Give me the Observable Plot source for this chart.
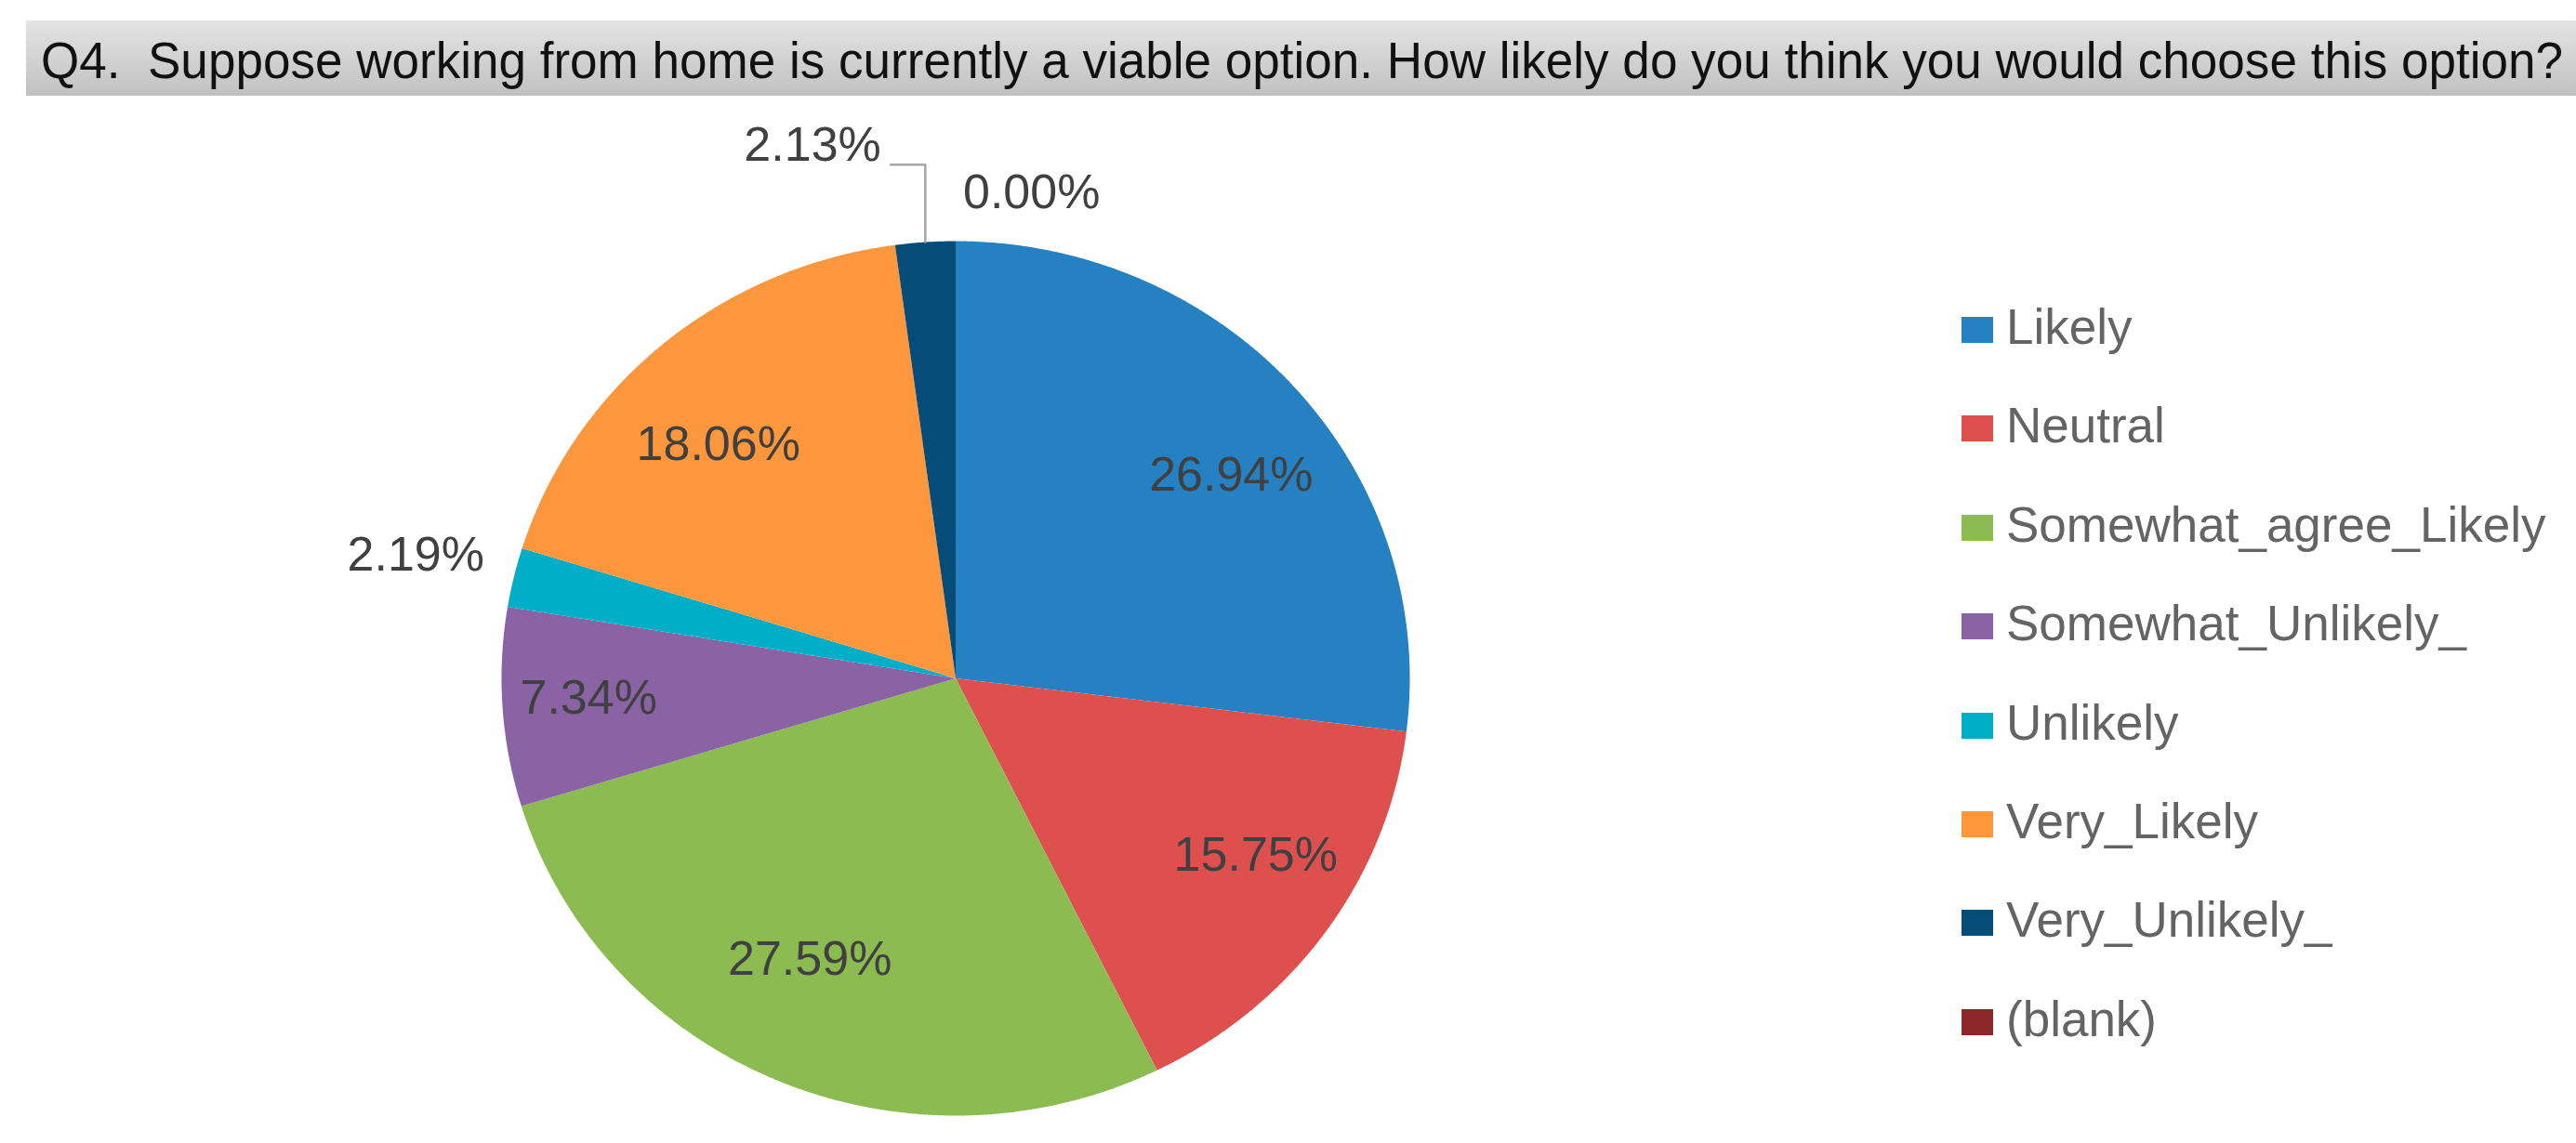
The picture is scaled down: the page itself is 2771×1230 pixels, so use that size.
<!DOCTYPE html>
<html>
<head>
<meta charset="utf-8">
<script src="https://cdn.jsdelivr.net/npm/d3@7"></script>
<script src="https://cdn.jsdelivr.net/npm/@observablehq/plot@0.6"></script>
<style>
  html, body { margin: 0; padding: 0; background: #fff; }
  body { width: 2771px; height: 1230px; overflow: hidden; position: relative;
         font-family: "Liberation Sans", Arial, sans-serif; }
  #title { position: absolute; left: 28px; top: 22px; width: 2743px; height: 81px;
           background: linear-gradient(#e4e4e4, #c1c1c1); overflow: hidden; }
  #title span { position: absolute; left: 16px; top: 15px; white-space: pre;
                font-size: 56px; line-height: 56px; color: #111; transform-origin: 0 0; }
  #chart { position: absolute; left: 0; top: 103px; }
  .lg-sw { position: absolute; left: 2110px; width: 34px; height: 28px; }
  .lg-tx { position: absolute; left: 2158px; font-size: 53px; line-height: 53px;
           color: #646464; white-space: pre; }
</style>
</head>
<body>
<div id="title"><span id="titleText"></span></div>
<div id="chart"></div>
<div id="legend"></div>
<script>
// ---- data ----
const titleText = "Q4.  Suppose working from home is currently a viable option. How likely do you think you would choose this option?";
const categories = ["Likely", "Neutral", "Somewhat_agree_Likely", "Somewhat_Unlikely_", "Unlikely", "Very_Likely", "Very_Unlikely_", "(blank)"];
const percents = [26.94, 15.75, 27.59, 7.34, 2.19, 18.06, 2.13, 0.00];
const colors = ["#2581c1", "#dd504e", "#8cbc51", "#8a63a4", "#00aec8", "#fd973d", "#064c79", "#8b2727"];

// ---- title ----
const tspan = document.getElementById("titleText");
tspan.textContent = titleText;
const tw = tspan.getBoundingClientRect().width;
tspan.style.transform = `scaleX(${2713 / tw})`;

// ---- layout ----
const W = 2771, H = 1127;
const cx = 1027.5, rx = 488.5, cyPage = 729.5, ry = 470.5, svgTop = 103;
const cy = cyPage - svgTop;

// ---- slices ----
const total = d3.sum(percents);
let cum = 0;
const slices = categories.map((c, i) => {
  const a0 = cum / total * 2 * Math.PI;
  cum += percents[i];
  const a1 = cum / total * 2 * Math.PI;
  return {c, v: percents[i], a0, a1, mid: (a0 + a1) / 2};
});
const pts = [];
for (const s of slices) {
  if (s.v <= 0) continue;
  pts.push({c: s.c, x: 0, y: 0});
  const n = Math.max(2, Math.ceil((s.a1 - s.a0) / (Math.PI / 720)));
  for (let k = 0; k <= n; k++) {
    const a = s.a0 + (s.a1 - s.a0) * k / n;
    pts.push({c: s.c, x: Math.sin(a), y: Math.cos(a)});
  }
  pts.push({c: s.c, x: 0, y: 0});
}

const fmt = v => v.toFixed(2) + "%";
const inside = slices.filter(s => s.v >= 5);
const outsideSmall = slices.filter(s => s.v > 0 && s.v < 5);
const rInX = 0.81, rInY = 0.70, rOut = 1.222;
// the small slice near 12 o'clock collides with the 0% label: shift left with a leader
const isTop = s => Math.cos(s.mid) > 0.95;
const plain = outsideSmall.filter(s => !isTop(s));
const leadered = outsideSmall.filter(s => isTop(s));
const zero = slices.filter(s => s.v === 0);

const shiftPx = 114;
const leaderLines = [];
for (const s of leadered) {
  const x0 = Math.sin(s.mid), y0 = Math.cos(s.mid);
  const ly = rOut * Math.cos(s.mid);
  const elbowY = ly - 21 / ry;
  const lxRight = rOut * Math.sin(s.mid) - shiftPx / rx + 73 / rx;
  leaderLines.push({c: s.c, x: x0, y: y0});
  leaderLines.push({c: s.c, x: x0, y: elbowY});
  leaderLines.push({c: s.c, x: lxRight + 11 / rx, y: elbowY});
}

const font = "'Liberation Sans', Arial, sans-serif";
const chart = Plot.plot({
  width: W, height: H,
  marginLeft: cx - rx, marginRight: W - (cx + rx),
  marginTop: cy - ry, marginBottom: H - (cy + ry),
  x: {domain: [-1, 1], axis: null},
  y: {domain: [-1, 1], axis: null},
  color: {domain: categories, range: colors},
  style: {fontFamily: font, background: "white", overflow: "visible"},
  marks: [
    Plot.line(pts, {x: "x", y: "y", z: "c", fill: "c", stroke: "none"}),
    Plot.line(leaderLines, {x: "x", y: "y", z: "c", stroke: "#a6a6a6", strokeWidth: 2.5, curve: "linear"}),
    Plot.text(inside, {x: s => rInX * Math.sin(s.mid), y: s => rInY * Math.cos(s.mid), text: s => fmt(s.v),
      fontSize: 52, fill: "#404040", fontFamily: font}),
    Plot.text(plain, {x: s => rOut * Math.sin(s.mid), y: s => rOut * Math.cos(s.mid), text: s => fmt(s.v),
      fontSize: 52, fill: "#404040", fontFamily: font}),
    Plot.text(leadered, {x: s => rOut * Math.sin(s.mid), y: s => rOut * Math.cos(s.mid), text: s => fmt(s.v),
      dx: -shiftPx, fontSize: 52, fill: "#404040", fontFamily: font}),
    Plot.text(zero, {x: s => 0, y: s => 1 + 52 / ry, text: s => fmt(s.v),
      textAnchor: "start", dx: 8, fontSize: 52, fill: "#404040", fontFamily: font})
  ]
});
document.getElementById("chart").appendChild(chart);

// ---- legend ----
const legend = document.getElementById("legend");
categories.forEach((c, i) => {
  const center = 355 + i * 106.4;
  const sw = document.createElement("div");
  sw.className = "lg-sw";
  sw.style.top = (center - 14) + "px";
  sw.style.background = colors[i];
  legend.appendChild(sw);
  const tx = document.createElement("div");
  tx.className = "lg-tx";
  tx.style.top = (center - 30) + "px";
  tx.textContent = c;
  legend.appendChild(tx);
});
</script>
</body>
</html>
